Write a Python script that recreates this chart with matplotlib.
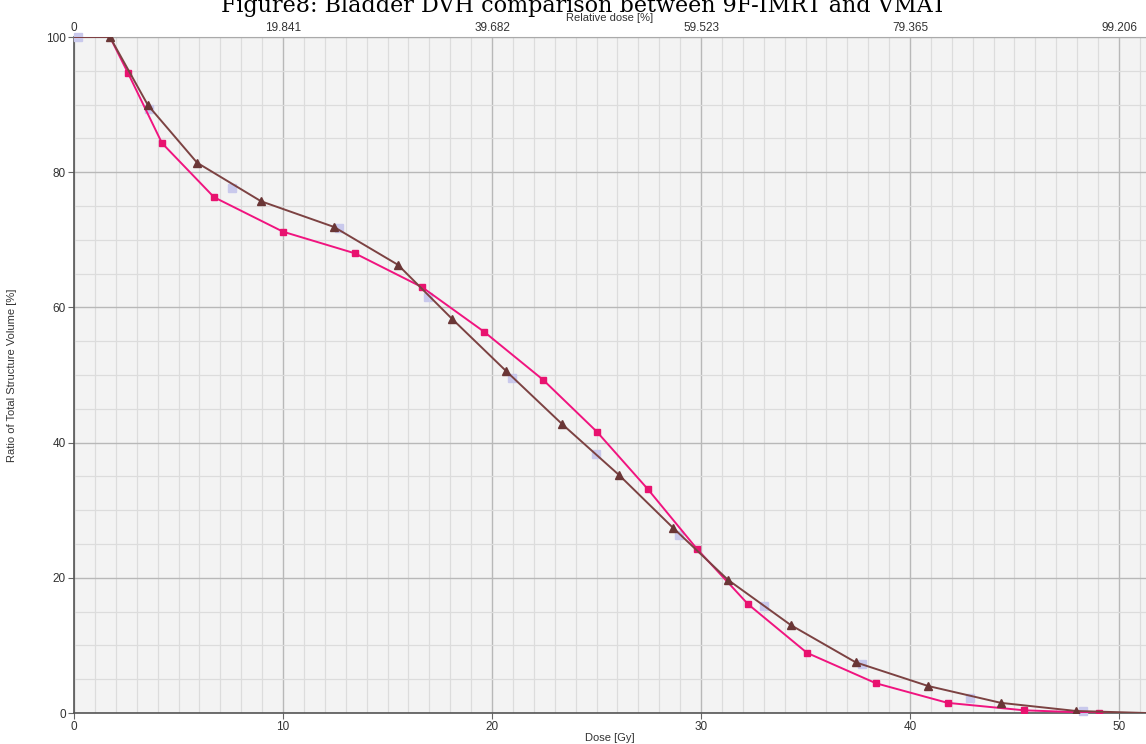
import numpy as np
import matplotlib.pyplot as plt
from matplotlib.ticker import MultipleLocator

# VMAT (brown triangles)
dose_vmat = [0, 1.72, 3.54, 5.89, 8.95, 12.44, 15.5, 18.09, 20.67, 23.35, 26.08,
             28.66, 31.29, 34.3, 37.4, 40.86, 44.35, 47.94, 51.3]
vol_vmat = [100, 100, 89.9, 81.4, 75.7, 71.9, 66.3, 58.3, 50.6, 42.75, 35.2,
            27.4, 19.7, 13.0, 7.5, 4.0, 1.5, 0.3, 0.0]

# 9F-IMRT (magenta squares)
dose_imrt = [0, 1.72, 2.58, 4.21, 6.70, 10.0, 13.44, 16.65, 19.62, 22.44, 25.02,
             27.46, 29.8, 32.25, 35.07, 38.37, 41.8, 45.45, 49.04, 51.3]
vol_imrt = [100, 100, 94.7, 84.3, 76.3, 71.2, 68.0, 63.0, 56.4, 49.3, 41.6,
            33.1, 24.3, 16.1, 8.9, 4.4, 1.5, 0.4, 0.0, 0.0]

# reference plan markers (lavender)
dose_ref = [0.2, 3.6, 7.56, 12.7, 16.94, 20.96, 24.98, 28.95, 33.0, 37.7, 42.87, 48.3]
vol_ref = [100, 89.4, 77.7, 71.7, 61.5, 49.6, 38.3, 26.3, 15.8, 7.2, 2.2, 0.3]

x_ticks = [0, 10, 20, 30, 40, 50]
top_labels = ["0", "19.841", "39.682", "59.523", "79.365", "99.206"]
y_ticks = [0, 20, 40, 60, 80, 100]

plt.rcParams['font.family'] = ['Liberation Sans', 'DejaVu Sans']

W, H = 1146, 744
fig = plt.figure(figsize=(W / 100, H / 100), dpi=100)
ax = fig.add_axes([74 / W, 1 - 713 / H, 1 - 74 / W, (713 - 37) / H])
ax.set_facecolor('#f3f3f3')
ax.set_xlim(0, (W - 74) / 20.9)
ax.set_ylim(0, 100)

ax.xaxis.set_major_locator(MultipleLocator(10))
ax.xaxis.set_minor_locator(MultipleLocator(1))
ax.yaxis.set_major_locator(MultipleLocator(20))
ax.yaxis.set_minor_locator(MultipleLocator(5))
ax.grid(which='minor', color='#dcdcdc', linewidth=0.9)
ax.grid(which='major', color='#b8b8b8', linewidth=1.0)
ax.set_axisbelow(True)

ax.set_xticks(x_ticks)
ax.set_yticks(y_ticks)
ax.tick_params(which='minor', length=0)
ax.tick_params(which='major', length=4, color='#666666', labelsize=8.5,
               labelcolor='#333333', pad=2)
for s in ['left', 'bottom']:
    ax.spines[s].set_color('#555555')
    ax.spines[s].set_linewidth(1.2)
ax.spines['top'].set_color('#aaaaaa')
ax.spines['right'].set_visible(False)

ax.set_xlabel("Dose [Gy]", fontsize=8, color='#333333', labelpad=0)
ax.set_ylabel("Ratio of Total Structure Volume [%]", fontsize=8, color='#333333')
ax.yaxis.set_label_coords((17 - 74) / (W - 74), 0.5)

top = ax.secondary_xaxis('top')
top.set_xticks(x_ticks)
top.set_xticklabels(top_labels)
top.tick_params(length=0, labelsize=8.5, labelcolor='#333333', pad=2)
top.spines['top'].set_visible(False)
top.set_xlabel("Relative dose [%]", fontsize=8, color='#333333', labelpad=1)

ax.plot(dose_ref, vol_ref, linestyle='none', marker='s', markersize=5.5,
        color='#c9c9ec', zorder=3, clip_on=False)
ax.plot(dose_imrt, vol_imrt, color='#f0147f', linewidth=1.4, zorder=4)
ax.plot(dose_imrt[2:-1], vol_imrt[2:-1], linestyle='none', marker='s',
        markersize=4.5, color='#e8126f', zorder=5)
ax.plot(dose_vmat, vol_vmat, color='#7c4242', linewidth=1.4, zorder=6)
ax.plot(dose_vmat[1:-1], vol_vmat[1:-1], linestyle='none', marker='^',
        markersize=6, color='#6a3636', zorder=7)

fig.text(584 / W, 1 - 12 / H,
         "Figure8: Bladder DVH comparison between 9F-IMRT and VMAT",
         ha='center', va='baseline', fontsize=16, family='DejaVu Serif')

fig.savefig('out.png', dpi=100)
